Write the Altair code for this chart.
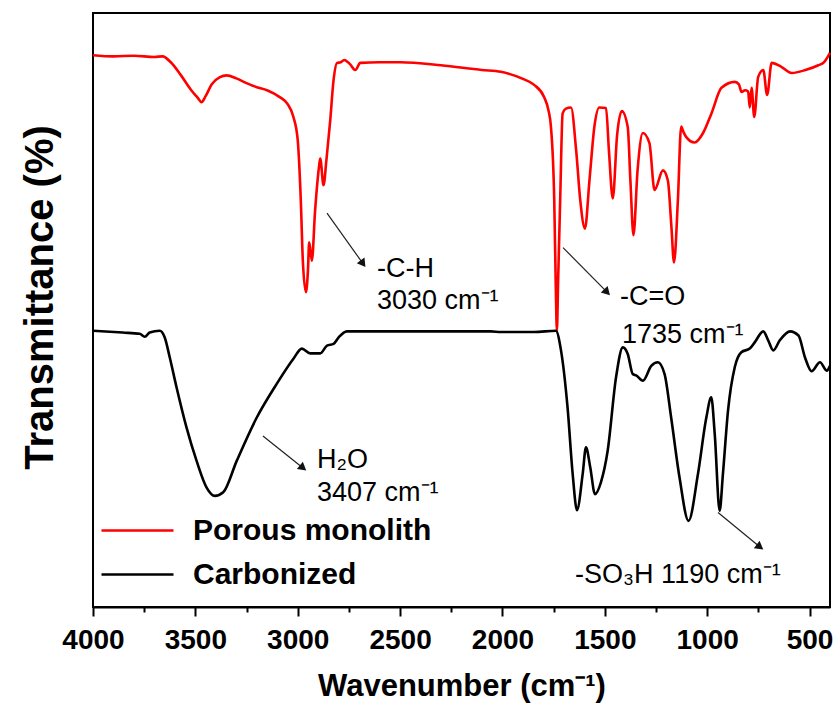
import altair as alt
import pandas as pd

# ---- data (x = wavenumber, y = transmittance, arbitrary %) ----
red_wn = [4000, 3900, 3800, 3700, 3660, 3620, 3570, 3520, 3490, 3470, 3450, 3420, 3380, 3347, 3300,
          3250, 3200, 3150, 3086, 3050, 3021, 3000, 2985, 2975, 2960, 2950, 2944, 2931, 2915, 2895,
          2890, 2874, 2860, 2841, 2825, 2808, 2790, 2773, 2745, 2719, 2694, 2600, 2500, 2300, 2100,
          2008, 1900, 1845, 1796, 1775, 1763, 1747, 1740, 1734, 1728, 1718, 1706, 1690, 1665, 1640,
          1620, 1597, 1575, 1550, 1527, 1494, 1480, 1461, 1440, 1417, 1388, 1375, 1360, 1340, 1314,
          1282, 1257, 1216, 1192, 1175, 1162, 1143, 1127, 1115, 1102, 1061, 1020, 979, 930, 865,
          845, 832, 815, 800, 792, 783, 770, 751, 726, 707, 685, 636, 587, 520, 457, 430, 400]
red_t = [92.9, 92.7, 92.8, 92.6, 92.7, 91.7, 89.5, 87.0, 85.8, 85.0, 86.0, 88.0, 89.2, 89.5, 89.0,
         88.2, 87.5, 87.0, 85.8, 84.7, 82.5, 78.6, 68.5, 58.3, 53.0, 56.7, 61.4, 58.3, 66.8, 74.4,
         75.5, 71.0, 75.2, 82.0, 88.7, 91.6, 91.7, 92.1, 91.4, 90.4, 91.6, 91.7, 91.7, 91.2, 90.4,
         90.1, 88.9, 87.9, 85.8, 83.6, 80.8, 68.5, 55.0, 46.5, 55.0, 68.5, 83.1, 83.9, 84.1, 76.9,
         68.5, 63.7, 71.8, 81.1, 84.1, 84.0, 76.9, 68.8, 79.4, 83.5, 80.8, 71.8, 62.6, 73.5, 79.8,
         78.1, 70.2, 73.5, 71.8, 64.2, 58.0, 68.5, 80.9, 79.9, 79.1, 78.2, 79.8, 83.1, 87.4, 88.4,
         88.0, 86.7, 87.0, 86.8, 84.1, 87.4, 82.5, 89.2, 90.4, 86.2, 91.6, 90.9, 89.9, 90.4, 91.2, 91.7, 93.3]

black_wn = [4000, 3855, 3772, 3747, 3723, 3674, 3650, 3625, 3592, 3543, 3494, 3445, 3405, 3364, 3298,
            3200, 3102, 3021, 2980, 2939, 2890, 2857, 2825, 2800, 2760, 2547, 2057, 2008, 1927, 1845,
            1739, 1714, 1682, 1657, 1636, 1608, 1592, 1571, 1548, 1519, 1486, 1445, 1412, 1388, 1363,
            1347, 1314, 1273, 1241, 1208, 1176, 1135, 1091, 1045, 1004, 980, 963, 939, 923, 898,
            865, 833, 792, 767, 726, 702, 677, 645, 595, 554, 522, 490, 449, 416, 400]
black_t = [46.5, 46.2, 46.0, 45.5, 46.2, 46.5, 45.4, 42.0, 37.0, 30.2, 24.6, 20.1, 18.7, 19.3, 24.6,
           31.9, 37.6, 41.8, 43.5, 42.7, 42.7, 44.0, 44.3, 45.4, 46.4, 46.4, 46.4, 46.3, 46.3, 46.3,
           46.5, 43.2, 33.6, 22.4, 16.3, 22.4, 26.9, 23.5, 19.0, 21.0, 26.3, 38.7, 43.7, 42.6, 39.2,
           39.0, 38.1, 40.6, 41.2, 39.2, 31.9, 21.8, 14.5, 22.4, 31.9, 35.3, 29.1, 16.2, 22.4, 33.1,
           40.4, 42.9, 43.5, 44.6, 46.4, 44.9, 43.2, 44.9, 46.4, 45.7, 42.0, 39.7, 41.2, 39.8, 40.6]

series_names = ["Porous monolith", "Carbonized"]
series_colors = ["#ff0000", "#000000"]

ann_text = ["-C-H", "3030 cm⁻¹", "-C=O", "1735 cm⁻¹", "H₂O", "3407 cm⁻¹", "-SO₃H 1190 cm⁻¹"]
ann_wn = [2613, 2613, 1426, 1416, 2906, 2906, 1645]
ann_t = [55.5, 50.1, 50.8, 44.5, 23.4, 17.9, 4.0]

arrow_wn1 = [2857, 1704, 3170, 947]
arrow_t1 = [66.3, 60.5, 28.8, 15.9]
arrow_wn2 = [2681, 1489, 2974, 742]
arrow_t2 = [57.8, 53.0, 23.4, 10.1]
arrow_angle = [144, 136, 129, 127]

x_all = list(range(4000, 499, -250))

# ---- tables ----
lines = pd.concat([
    pd.DataFrame({"wn": red_wn, "T": red_t, "series": series_names[0], "o": range(len(red_wn))}),
    pd.DataFrame({"wn": black_wn, "T": black_t, "series": series_names[1], "o": range(len(black_wn))}),
])
ann = pd.DataFrame({"wn": ann_wn, "T": ann_t, "label": ann_text})
arrows = pd.DataFrame({"wn": arrow_wn1, "T": arrow_t1, "wn2": arrow_wn2, "T2": arrow_t2,
                       "angle": arrow_angle})

FONT = "Liberation Sans"

xscale = alt.Scale(domain=[4000, 400], nice=False, zero=False)
yscale = alt.Scale(domain=[0, 100], nice=False, zero=False)

x_axis = alt.Axis(
    values=x_all,
    labelExpr="datum.value % 500 === 0 ? datum.label : ''",
    format="d",
    tickSize={"condition": {"test": "datum.value % 500 === 0", "value": 9}, "value": 5},
    tickWidth=2, tickColor="black",
    domainWidth=2, domainColor="black",
    labelFont=FONT, labelFontSize=28, labelFontWeight="bold", labelColor="black",
    labelPadding=10, labelOverlap=False, labelFlush=False,
    title="Wavenumber (cm⁻¹)", titleFont=FONT, titleFontSize=31, titleFontWeight="bold",
    titleColor="black", titlePadding=17, grid=False,
)
y_axis = alt.Axis(
    ticks=False, labels=False, domain=False, grid=False,
    title="Transmittance (%)", titleFont=FONT, titleFontSize=40, titleFontWeight="bold",
    titleColor="black", titlePadding=33, titleY=284,
)

line_layer = alt.Chart(lines).mark_line(strokeWidth=2.6, interpolate="monotone").encode(
    x=alt.X("wn:Q", scale=xscale, axis=x_axis),
    y=alt.Y("T:Q", scale=yscale, axis=y_axis),
    color=alt.Color("series:N",
                    scale=alt.Scale(domain=series_names, range=series_colors),
                    legend=alt.Legend(
                        title=None, orient="none", legendX=25, legendY=498,
                        symbolType="M-2,0H2", symbolSize=1296, symbolStrokeWidth=2.5,
                        labelFont=FONT, labelFontSize=30, labelFontWeight="bold",
                        labelColor="black", labelOffset=36, labelLimit=0,
                        rowPadding=9, padding=0,
                    )),
    order="o:Q",
    detail="series:N",
)

rule_layer = alt.Chart(arrows).mark_rule(color="#222222", strokeWidth=1.2).encode(
    x="wn:Q", y="T:Q", x2="wn2:Q", y2="T2:Q"
)
head_layer = alt.Chart(arrows).mark_point(shape="triangle-up", filled=True, color="#111111",
                                          size=90, opacity=1).encode(
    x="wn2:Q", y="T2:Q", angle=alt.Angle("angle:Q", scale=None)
)
text_layer = alt.Chart(ann).mark_text(font=FONT, fontSize=27, align="left",
                                      baseline="alphabetic", color="black").encode(
    x="wn:Q", y="T:Q", text="label:N"
)

chart = alt.layer(line_layer, rule_layer, head_layer, text_layer).properties(
    width=737, height=594,
    background="white",
    autosize=alt.AutoSizeParams(type="none"),
    padding={"left": 93, "top": 13, "right": 8, "bottom": 101},
).configure_view(stroke="black", strokeWidth=2)

chart.save("out.html", embed_options={"renderer": "svg", "actions": False})
